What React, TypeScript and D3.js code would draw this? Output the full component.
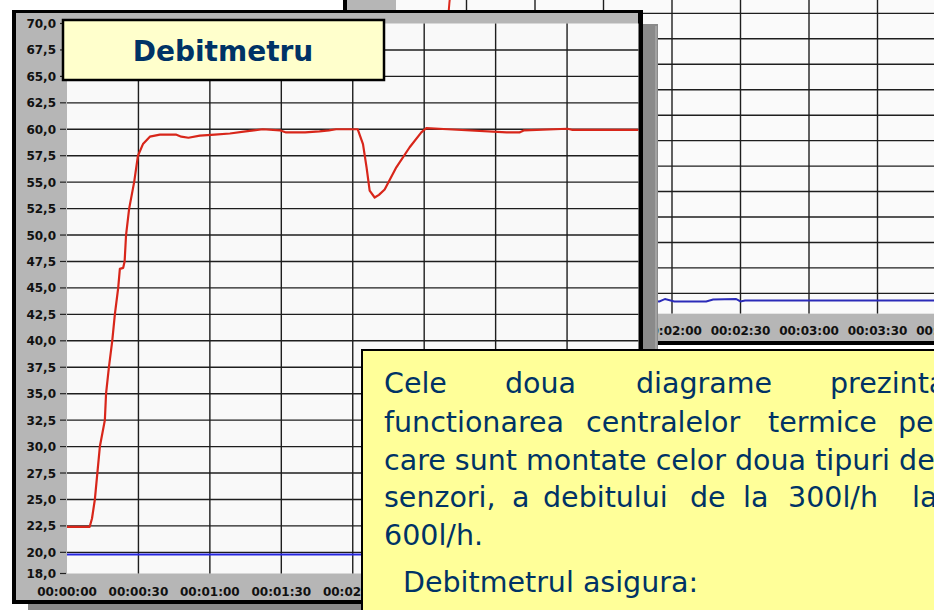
import React, { useEffect, useRef } from 'react';
import * as d3 from 'd3';

// front chart (Debitmetru): time in seconds, flow value
const redTime = [0, 9.5, 10.5, 11.7, 13.8, 15.9, 16.4, 17.6, 19.0, 20.1, 21.5, 22.2, 23.6, 24.2, 24.8, 26.1, 28.2, 29.8, 31.9, 34.8, 39, 45.7, 48, 51, 55.8, 62, 68.4, 75, 82.2, 89.4, 92, 100, 106, 110, 113, 122.1, 124.3, 125.8, 127.1, 129.2, 131, 133.4, 138.3, 143.9, 148.8, 150.9, 160, 184.6, 190, 192, 210.2, 212, 240];
const redValue = [22.4, 22.4, 23.2, 25, 30, 32.5, 35, 37.5, 40, 42.5, 45, 46.8, 46.9, 47.5, 50, 52.5, 55, 57.5, 58.6, 59.3, 59.5, 59.5, 59.3, 59.2, 59.4, 59.5, 59.6, 59.8, 60.0, 59.9, 59.7, 59.7, 59.8, 59.9, 60, 60, 58.6, 56.4, 54.2, 53.55, 53.8, 54.3, 56.4, 58.3, 59.7, 60.1, 60, 59.7, 59.7, 59.9, 60.05, 59.95, 59.95];
const blueTime = [0, 60, 120, 180, 240];
const blueValue = [19.8, 19.8, 19.8, 19.8, 19.8];

// chart behind, on the right
const backRedTime = [0, 10, 14, 18, 20, 22.5, 25, 30, 40, 240];
const backRedValue = [22.4, 22.4, 30, 37, 42, 48.5, 54, 58.5, 59.5, 60];
const backBlueTime = [0, 100, 114.5, 117, 121, 135, 138, 148, 150, 152, 240];
const backBlueValue = [19.35, 19.35, 19.2, 19.45, 19.2, 19.2, 19.4, 19.45, 19.2, 19.3, 19.3];

const yTicks = [18, 20, 22.5, 25, 27.5, 30, 32.5, 35, 37.5, 40, 42.5, 45, 47.5, 50, 52.5, 55, 57.5, 60, 62.5, 65, 67.5, 70];
const xTicks = [0, 30, 60, 90, 120, 150, 180, 210, 240];
const xTickLabels = ['00:00:00', '00:00:30', '00:01:00', '00:01:30', '00:02:00', '00:02:30', '00:03:00', '00:03:30', '00:04:00'];

const title = 'Debitmetru';
// words of the note, with the start of each word (justified text)
const noteLines = [
  { y: 393, words: [['Cele', 384], ['doua', 505], ['diagrame', 636], ['prezinta', 830]] },
  { y: 432, words: [['functionarea', 384], ['centralelor', 586], ['termice', 768], ['pe', 898]] },
  { y: 470, words: [['care sunt montate celor doua tipuri de', 384]] },
  { y: 507, words: [['senzori,', 384], ['a', 512], ['debitului', 543], ['de', 690], ['la', 743], ['300l/h', 788], ['la', 912]] },
  { y: 545, words: [['600l/h.', 384]] },
  { y: 592, words: [['Debitmetrul asigura:', 403]] },
];

const AXIS_FONT = '"DejaVu Sans", Verdana, sans-serif';
const NAVY = '#003366';

function App() {
  const svgRef = useRef(null);

  useEffect(() => {
    const svg = d3.select(svgRef.current);
    svg.selectAll('*').remove();

    const defs = svg.append('defs');
    defs.append('clipPath').attr('id', 'backClip')
      .append('rect').attr('x', 396).attr('y', -20).attr('width', 600).attr('height', 333.7);
    defs.append('clipPath').attr('id', 'mainClip')
      .append('rect').attr('x', 67).attr('y', 23.5).attr('width', 571.5).attr('height', 550);

    svg.append('rect').attr('width', 934).attr('height', 610).attr('fill', '#ffffff');

    // ---- chart behind ----
    const bx = d3.scaleLinear().domain([0, 240]).range([398, 946]);
    const by = d3.scaleLinear().domain([18, 70]).range([313.7, -215.7]);
    const back = svg.append('g');
    back.append('rect').attr('x', 343).attr('y', -20).attr('width', 620).attr('height', 365).attr('fill', '#000');
    back.append('rect').attr('x', 347).attr('y', -20).attr('width', 616).attr('height', 361).attr('fill', '#b6b6b6');
    back.append('rect').attr('x', 396).attr('y', -20).attr('width', 600).attr('height', 333.7).attr('fill', '#fafafa');

    const backGrid = back.append('g').attr('clip-path', 'url(#backClip)');
    backGrid.selectAll('.h').data(yTicks.filter(v => v > 18 && v < 70)).enter()
      .append('line')
      .attr('x1', 396).attr('x2', 960)
      .attr('y1', d => by(d)).attr('y2', d => by(d))
      .attr('stroke', '#1e1e1e').attr('stroke-width', 1.4);
    backGrid.selectAll('.v').data(xTicks.slice(1)).enter()
      .append('line')
      .attr('x1', d => bx(d)).attr('x2', d => bx(d))
      .attr('y1', -20).attr('y2', 313.7)
      .attr('stroke', '#1e1e1e').attr('stroke-width', 1.4);

    const backLine = d3.line().x(d => bx(d[0])).y(d => by(d[1]));
    backGrid.append('path')
      .datum(d3.zip(backRedTime, backRedValue))
      .attr('d', backLine).attr('fill', 'none')
      .attr('stroke', '#dd2a1e').attr('stroke-width', 2);
    backGrid.append('path')
      .datum(d3.zip(backBlueTime, backBlueValue))
      .attr('d', backLine).attr('fill', 'none')
      .attr('stroke', '#2b2bb8').attr('stroke-width', 2);

    // only the labels that peek out from behind the front chart
    back.selectAll('.xl').data(xTicks.filter(v => v >= 120)).enter()
      .append('text')
      .attr('x', d => bx(d)).attr('y', 335)
      .attr('text-anchor', 'middle')
      .attr('font-family', AXIS_FONT).attr('font-weight', 'bold').attr('font-size', 12)
      .attr('fill', '#111')
      .text(d => xTickLabels[xTicks.indexOf(d)]);

    // ---- front chart ----
    const x = d3.scaleLinear().domain([0, 240]).range([67, 638.5]);
    const y = d3.scaleLinear().domain([18, 70]).range([573.5, 23.5]);
    const main = svg.append('g');

    // drop shadow and frame
    main.append('rect').attr('x', 28).attr('y', 24).attr('width', 630).attr('height', 594).attr('fill', '#8a8a8a');
    main.append('line').attr('x1', 656).attr('x2', 656).attr('y1', 26).attr('y2', 618).attr('stroke', '#aaaaaa').attr('stroke-width', 1.5);
    main.append('rect').attr('x', 12).attr('y', 10).attr('width', 631).attr('height', 594).attr('fill', '#000');
    main.append('rect').attr('x', 16).attr('y', 13).attr('width', 622).attr('height', 587).attr('fill', '#b6b6b6');
    main.append('rect').attr('x', 67).attr('y', 23.5).attr('width', 571.5).attr('height', 550).attr('fill', '#f9f9f9');

    main.selectAll('.h').data(yTicks.filter(v => v > 18 && v < 70)).enter()
      .append('line')
      .attr('x1', 67).attr('x2', 638.5)
      .attr('y1', d => y(d)).attr('y2', d => y(d))
      .attr('stroke', '#1e1e1e').attr('stroke-width', 1.4);
    main.selectAll('.v').data(xTicks.filter(v => v > 0 && v < 240)).enter()
      .append('line')
      .attr('x1', d => x(d)).attr('x2', d => x(d))
      .attr('y1', 23.5).attr('y2', 573.5)
      .attr('stroke', '#1e1e1e').attr('stroke-width', 1.4);

    // y axis ticks and labels
    main.selectAll('.yt').data(yTicks).enter()
      .append('line')
      .attr('x1', 60).attr('x2', 66)
      .attr('y1', d => y(d)).attr('y2', d => y(d))
      .attr('stroke', '#222').attr('stroke-width', 1.2);
    main.selectAll('.yl').data(yTicks).enter()
      .append('text')
      .attr('x', 56).attr('y', d => y(d) + 4.5)
      .attr('text-anchor', 'end')
      .attr('font-family', AXIS_FONT).attr('font-weight', 'bold').attr('font-size', 12)
      .attr('fill', '#111')
      .text(d => d3.format('.1f')(d).replace('.', ','));

    // the later labels sit under the note box
    main.selectAll('.xl').data(xTicks.filter(v => v <= 120)).enter()
      .append('text')
      .attr('x', d => x(d)).attr('y', 596)
      .attr('text-anchor', 'middle')
      .attr('font-family', AXIS_FONT).attr('font-weight', 'bold').attr('font-size', 12)
      .attr('fill', '#111')
      .text(d => xTickLabels[xTicks.indexOf(d)]);

    const line = d3.line().x(d => x(d[0])).y(d => y(d[1]));
    const series = main.append('g').attr('clip-path', 'url(#mainClip)');
    series.append('path')
      .datum(d3.zip(blueTime, blueValue))
      .attr('d', line).attr('fill', 'none')
      .attr('stroke', '#2626e0').attr('stroke-width', 2);
    series.append('path')
      .datum(d3.zip(redTime, redValue))
      .attr('d', line).attr('fill', 'none')
      .attr('stroke', '#d8261a').attr('stroke-width', 2.2)
      .attr('stroke-linejoin', 'round');

    // title box
    main.append('rect').attr('x', 63).attr('y', 20).attr('width', 321).attr('height', 60)
      .attr('fill', '#ffffcc').attr('stroke', '#000').attr('stroke-width', 2.5);
    main.append('text')
      .attr('x', 223).attr('y', 61)
      .attr('text-anchor', 'middle')
      .attr('font-family', AXIS_FONT).attr('font-weight', 'bold').attr('font-size', 28)
      .attr('fill', NAVY)
      .text(title);

    // note box
    const note = svg.append('g');
    note.append('rect').attr('x', 362).attr('y', 350).attr('width', 620).attr('height', 300)
      .attr('fill', '#ffff99').attr('stroke', '#000').attr('stroke-width', 2);
    noteLines.forEach(l => {
      note.selectAll(null).data(l.words).enter()
        .append('text')
        .attr('x', d => d[1]).attr('y', l.y)
        .attr('font-family', '"DejaVu Sans", Tahoma, sans-serif').attr('font-size', 28.5)
        .attr('fill', NAVY)
        .text(d => d[0]);
    });
  }, []);

  return (
    <svg ref={svgRef} width={934} height={610}
      style={{ position: 'fixed', left: 0, top: 0, display: 'block' }} />
  );
}

export default App;
